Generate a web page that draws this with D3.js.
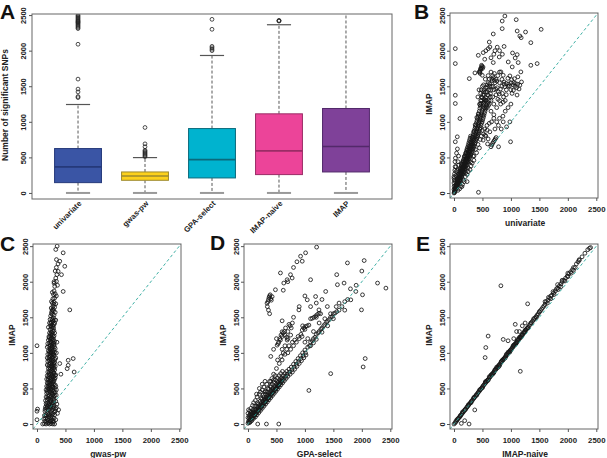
<!DOCTYPE html>
<html><head><meta charset="utf-8">
<script src="https://cdn.jsdelivr.net/npm/d3@7"></script>
<style>body{margin:0;background:#fff}</style>
</head><body><svg id="c" width="607" height="458"></svg>
<script>
// ---------------- DATA ----------------
const boxCategories = ["univariate","gwas-pw","GPA-select","IMAP-naive","IMAP"];
const boxFill   = ["#3a55a5","#fcd11c","#00b3cf","#ec4499","#7f4199"];
const boxStroke = ["#25397a","#9c8a2e","#0b6a7c","#9a2c66","#52296a"];
const boxQ1     = [145,178,211,258,295];
const boxMedian = [366,239,469,591,652];
const boxQ3     = [624,295,905,1112,1187];
const whiskerLow  = [0,0,0,0,0];
const whiskerHigh = [1243,497,1932,2364,2560];
const boxOutliers = [
  [1340,1355,1420,1460,1600,2090,2310,2325,2340,2355,2370,2385,2395,2405,2415,2425,2440,2455,2470,2485,2500],
  [510,525,540,555,570,585,600,650,690,920],
  [2000,2020,2040,2060,2300,2440],
  [2415,2420,2425],
  []
];
const yTicks = [0,500,1000,1500,2000,2500];
const xTicks = [0,500,1000,1500,2000,2500];

// IMAP (y) against univariate (x)
const imapVsUnivariate = [
[0,0],[5,15],[10,5],[12,35],[20,25],[18,55],[28,45],[25,75],[35,60],[32,95],[42,80],[40,120],[50,100],[48,145],[58,125],[55,170],[65,110],[65,150],[62,195],[75,135],[75,175],[72,220],[85,155],[85,200],[82,245],[95,140],[95,185],[95,230],[92,275],[105,170],[105,215],[105,260],[102,305],[115,190],[115,240],[115,285],[112,330],[125,210],[125,260],[125,310],[122,355],[135,230],[135,280],[135,330],[132,380],[145,250],[145,300],[145,350],[142,410],[155,270],[155,320],[155,370],[152,430],[165,290],[165,340],[165,390],[162,455],[175,300],[175,355],[175,410],[172,475],[185,320],[185,375],[185,430],[182,500],[195,340],[195,395],[195,450],[192,520],[205,360],[205,415],[205,470],[202,545],[215,380],[215,435],[215,495],[212,570],[225,400],[225,455],[225,520],[222,600],[235,420],[235,480],[235,545],[232,625],[245,440],[245,500],[245,565],[242,650],[255,460],[255,520],[255,590],[252,680],[265,480],[265,545],[265,615],[262,710],[275,500],[275,570],[275,640],[272,740],[285,520],[285,590],[285,665],[282,770],[295,540],[295,615],[295,690],[292,800],
[0,50],[3,95],[0,140],[8,185],[0,230],[10,270],[15,320],[20,370],[18,440],[25,490],[0,206],[35,300],[35,370],[23,720],[58,790],[105,1047],[23,1258],[23,1374],[23,1819],[23,2029],[45,560],[60,620],[80,520],[70,440],
[100,60],[150,120],[200,230],[250,300],[180,160],[230,260],[300,380],[320,420],[280,330],[350,460],[430,10],[230,160],[140,90],
[305,560],[305,640],[305,720],[315,580],[315,660],[315,750],[325,600],[325,690],[325,780],[335,620],[335,710],[335,810],[345,640],[345,740],[345,840],[355,660],[355,760],[355,870],[365,690],[365,790],[365,900],[375,710],[375,820],[375,930],[385,740],[385,850],[385,960],[395,760],[395,870],[395,990],[405,780],[405,900],[405,1020],[415,800],[415,930],[415,1050],[425,830],[425,960],[425,1080],[435,850],[435,990],[435,1110],[445,870],[445,1010],[445,1150],[455,900],[455,1040],[455,1190],[465,920],[465,1070],[465,1220],[475,950],[475,1100],[475,1260],[485,980],[485,1130],[485,1300],[495,1000],[495,1160],[495,1340],[505,1030],[505,1190],[505,1380],[515,1060],[515,1220],[515,1260],[525,1090],[525,1250],[525,1320],[535,1120],[535,1280],[545,1150],[545,1310],[555,1180],[555,1340],[565,1210],[575,1240],[585,1200],[595,1270],[605,1230],[615,1300],
[650,650],[665,675],[680,700],[695,720],[710,740],[725,760],[740,780],[590,690],[600,760],[560,800],[520,830],[540,900],[580,950],[620,980],[660,1000],[700,1050],[630,860],[480,800],[500,880],
[783,650],[994,720],[865,1000],[982,1000],[924,930],[780,950],[830,900],[860,1080],[720,900],[750,1000],[800,1050],[700,1100],[650,1150],[900,1150],[950,1200],[1000,1250],[820,1250],
[420,1350],[440,1450],[470,1400],[500,1500],[530,1450],[550,1600],[580,1520],[600,1650],[620,1600],[650,1700],[680,1650],[560,1480],[590,1380],[610,1450],[630,1500],[670,1580],[690,1620],[710,1680],[740,1600],[770,1650],[800,1700],[600,1550],[620,1250],[640,1400],[650,1300],[660,1500],[680,1350],[700,1450],[700,1250],[720,1550],[740,1380],[750,1200],[760,1480],[780,1420],[800,1300],[800,1550],[840,1500],[850,1400],[870,1350],[880,1560],[900,1300],[920,1450],[950,1500],[1000,1450],[1020,1400],[1050,1550],[1070,1500],[1100,1480],[880,1530],[920,1540],[960,1530],[1000,1550],[1040,1520],[1080,1540],[1120,1530],[1175,1702],[1122,1632],[982,1646],[865,1655],[824,1702],[640,1350],[560,1300],[580,1420],[530,1380],[470,1300],[450,1250],[520,1520],[480,1450],
[450,1700],[460,1720],[470,1740],[480,1760],[490,1780],[500,1750],[510,1770],[460,1680],[444,1702],[468,1749],[485,1795],[497,1655],[368,1688],[269,1608],
[894,2487],[847,2417],[1093,2436],[847,2310],[690,2235],[1110,2277],[1157,2207],[1257,2263],[1180,2183],[1531,2300],[1350,2113],[620,2122],[631,2052],[602,2029],[427,1935],[514,1973],[690,1833],[795,1912],[953,1842],[1029,1968],[1110,1945],[1075,1898],[1128,1833],[1023,1772],[1350,1795],[1461,1819],[700,1950],[720,2000],[760,2050],[800,2000],[850,1950],[880,2060],[650,1900],[540,1880],[560,2000],[1186,1561],[1157,1515],
[13,68],[27,112],[44,92],[51,187],[63,143],[77,262],[91,213],[103,338],[117,268],[128,397],[143,327],[157,442],[169,366],[183,517],[197,427],[209,563],[224,481],[238,602],[251,534],[263,658],[278,585],[291,717],[304,612],[318,784],[331,668],[346,863],[358,726],[372,958],[387,793],[401,1062],[413,857],[426,1113],[442,938],[457,1241],[471,1018],[488,1347],[503,1092],[519,1423],[537,1192],[552,1418],[571,1302],[588,1486],[607,1372],[626,1532],[644,1443],[663,1602],[683,1497],[711,1582],[733,1461],[752,1573],[771,1318],[796,1392],[817,1463],[843,1597],[866,1277],[893,1493],[918,1382],[947,1612],[972,1503],[1013,1592],[1043,1443],[1063,1607],[1108,1377],[1143,1462],[68,37],[117,93],[163,182],[207,287],[247,352],[293,437],[338,517],[377,612],[422,683],[463,752],[512,743],[547,812],[583,883],[447,633],[397,566],[352,522],[58,317],[36,244],[14,166],[81,392]
];

// IMAP (y) against gwas-pw (x)
const imapVsGwasPw = [
[100,0],[130,5],[160,0],[190,10],[220,0],[250,5],[280,0],[310,0],[140,40],[170,30],[200,50],[230,40],[260,60],[290,30],[120,70],[150,80],[180,90],[210,100],[240,90],[270,100],[300,80],[330,60],[0,60],[0,180],[10,210],
[130,120],[160,130],[190,150],[220,140],[250,160],[280,150],[310,130],[140,180],[170,190],[200,200],[230,210],[260,200],[290,220],[320,180],[150,240],[180,250],[210,260],[240,250],[270,270],[300,260],[340,230],[160,290],[190,300],[220,290],[250,310],[280,300],[360,150],[380,200],[350,280],
[150,330],[180,340],[210,350],[240,340],[270,360],[300,350],[330,320],[160,380],[190,390],[220,400],[250,390],[280,410],[310,400],[170,430],[200,440],[230,450],[260,440],[290,460],[320,450],[160,480],[190,490],[220,500],[250,490],[280,510],[310,500],[340,480],[170,530],[200,540],[230,550],[260,540],[290,560],[320,550],[180,580],[210,590],[240,600],[270,590],[300,610],
[170,630],[200,640],[230,650],[260,640],[290,660],[320,650],[180,680],[210,690],[240,700],[270,690],[300,710],[330,690],[190,730],[220,740],[250,750],[280,740],[310,760],[200,780],[230,790],[260,800],[290,790],[320,810],[180,830],[210,840],[240,850],[270,840],[300,860],[190,880],[220,890],[250,900],[280,890],[310,870],[548,896],[636,920],[548,825],[530,778],[653,731],[400,850],[420,700],
[180,930],[210,940],[240,950],[270,940],[300,960],[330,930],[190,980],[220,990],[250,1000],[280,990],[310,1010],[200,1030],[230,1040],[260,1050],[290,1040],[320,1060],[180,1080],[210,1090],[240,1100],[270,1090],[300,1110],[190,1130],[220,1140],[250,1150],[280,1140],[310,1160],[200,1180],[230,1190],[260,1200],[290,1190],[0,1100],[340,1000],[350,1150],
[210,1230],[240,1240],[270,1250],[300,1240],[220,1280],[250,1290],[280,1300],[310,1280],[230,1330],[260,1340],[290,1350],[200,1360],[240,1380],[270,1390],[300,1400],[220,1420],[250,1430],[280,1440],[310,1420],[260,1480],[290,1490],[230,1470],[330,1460],
[240,1520],[270,1540],[300,1530],[260,1580],[290,1590],[320,1570],[576,1604],[250,1630],[280,1650],[310,1640],[270,1700],[300,1710],[254,1722],[330,1690],[280,1760],[310,1770],[290,1820],[320,1830],[300,1870],[460,1863],[340,1800],[270,1850],
[312,1934],[342,2005],[300,1980],[330,2050],[371,2146],[430,2099],[350,2100],[320,2150],[488,2217],[340,2200],[400,2288],[342,2311],[370,2250],[460,2406],[330,2453],[354,2500],[300,2000],[360,1950],
[213,23],[247,37],[177,62],[283,44],[153,113],[197,124],[233,117],[267,133],[303,167],[143,208],[177,223],[213,237],[247,228],[287,243],[327,211],[167,268],[203,273],[233,318],[263,283],[297,328],[187,362],[227,373],[263,418],[293,383],[337,407],[177,458],[213,467],[243,471],[273,478],[303,433],[187,513],[217,523],[253,517],[283,528],[331,526],[197,567],[227,572],[257,563],[287,587],[193,618],[237,623],[273,618],[307,633],[203,663],[247,673],[283,668],[317,683],[213,713],[253,723],[293,718],[227,768],[267,773],[303,783],[207,813],[247,818],[283,813],[233,863],[267,868],[297,838],[207,913],[237,918],[283,923],[317,908],[227,963],[263,968],[297,983],[217,1013],[247,1023],[277,1017],[233,1063],[267,1073],[307,1083],[227,1113],[263,1118],[297,1133],[243,1163],[277,1173],[213,1213],[253,1213],[287,1223],[237,1263],[267,1273],[297,1313],[253,1363],[283,1373],[243,1413],[273,1463],[303,1463],[253,1553],[287,1613],[297,1683],[267,1603]
];

// IMAP (y) against GPA-select (x)
const imapVsGpaSelect = [
[0,10],[10,40],[20,80],[30,20],[40,60],[50,120],[60,90],[70,50],[80,150],[90,110],[100,80],[110,170],[120,130],[130,100],[140,200],[150,160],[160,130],[170,230],[180,190],[190,160],[200,260],[210,220],[220,190],[230,290],[240,250],[250,220],[260,320],[270,280],[280,250],[290,350],[300,310],[310,280],[320,380],[330,340],[340,310],[350,410],[360,370],[370,340],[380,440],[390,400],[400,370],[410,470],[420,430],[430,400],[440,500],[450,460],[460,430],[470,530],[480,490],[490,460],[500,560],[510,520],[520,490],[530,590],[540,550],[550,520],[560,620],[570,580],[580,550],[590,650],[600,610],[610,580],[620,680],[630,640],[640,610],[650,710],[660,670],[670,640],[680,740],[690,700],[700,670],[720,770],[730,730],[740,700],[760,800],[770,760],[780,730],[800,840],[810,800],[820,770],[840,880],[850,840],[860,810],[880,920],[890,880],[900,850],[920,960],[930,920],[940,890],[960,1000],[970,960],[980,930],[1000,1040],[1010,1000],[1020,970],
[30,180],[50,220],[80,260],[100,300],[130,330],[160,380],[200,420],[220,450],[250,480],[280,520],[300,450],[330,560],[350,500],[380,600],[400,540],[420,640],[450,620],[480,680],[150,420],[200,500],[250,560],[300,600],[120,250],[90,200],[60,170],[40,140],[20,120],[0,90],[0,150],[10,200],[170,300],[230,360],[270,410],[310,460],
[400,600],[450,700],[500,780],[520,900],[550,850],[580,950],[600,900],[620,1000],[650,980],[680,1050],[700,1000],[720,1100],[750,1050],[780,1150],[800,1100],[820,1180],[850,1150],[880,1230],[900,1200],[930,1260],[950,1230],[650,1100],[600,1050],[700,1200],[750,1250],
[512,1108],[540,1150],[560,1200],[580,1250],[600,1297],[620,1280],[650,1250],[680,1220],[688,1180],[530,1130],[570,1180],[600,1230],[640,1300],[660,1350],[700,1300],[720,1400],[740,1380],[760,1350],[780,1420],
[953,1320],[980,1350],[1010,1370],[1040,1380],[1070,1390],[1000,1330],[960,1380],
[1129,1486],[1160,1500],[1190,1520],[1220,1540],[1250,1557],[1276,1550],[1100,1480],[1200,1500],
[335,1698],[350,1720],[360,1750],[370,1780],[380,1800],[390,1816],[400,1760],[410,1740],[424,1790],[340,1650],[360,1600],[380,1550],
[1050,1080],[1080,1100],[1100,1150],[1130,1170],[1150,1200],[1180,1220],[1200,1260],[1230,1280],[1250,1300],[1280,1330],[1300,1350],[1330,1380],[1350,1400],[1380,1430],[1400,1450],[1430,1470],[1450,1500],[1480,1510],[1500,1550],[1530,1560],[1560,1580],[1600,1600],[1650,1650],[1700,1720],[1750,1750],[1100,1100],[1150,1140],[1200,1190],[1300,1290],[1400,1380],[1500,1480],[1450,1550],[1350,1480],[1250,1420],[1150,1300],[1050,1200],[1000,1150],
[1012,2406],[1206,2486],[953,2288],[924,2358],[570,2123],[747,2099],[688,2028],[776,2052],[629,1981],[482,1887],[1100,2028],[1365,1863],[1559,2099],[1747,2264],[2041,2297],[2276,1981],[2423,1910],[2012,1816],[1994,1604],[2059,920],[2023,802],[1453,708],[1070,472],[541,0],[324,0],[171,0],[1041,1745],[894,1604],[1188,1792],[1571,1958],[1688,1981],[1394,1651],[1247,1604],[1806,1745],[1894,1863],[1000,1800],[1200,1700],[1300,1750],[1600,1700],[1700,1600],[1800,1900],[1900,1950],[2000,2150],[1550,1650],[800,2200],[620,1880],[700,2000],[860,2280],[500,1200],[450,1050],[400,950],[600,1450],[800,1500],[900,1650],[1100,1650],
[15,25],[25,55],[45,35],[55,95],[75,75],[85,130],[105,115],[115,150],[135,140],[145,185],[165,175],[175,210],[195,200],[205,240],[225,230],[235,270],[255,260],[265,300],[285,290],[295,330],[315,320],[325,360],[345,350],[355,390],[375,380],[385,420],[405,410],[415,450],[435,440],[445,480],[465,470],[475,510],[495,500],[505,540],[525,530],[535,570],[555,560],[565,600],[585,590],[595,630],[45,100],[65,150],[95,170],[125,210],[155,250],[185,280],[215,320],[245,350],[275,380],[305,420],[335,450],[365,490],[395,520],[425,560],[455,590],[485,620],[515,650],[545,680],[575,710],[605,740]
];

// IMAP (y) against IMAP-naive (x)
const imapVsImapNaive = [
[0,0],[20,15],[30,35],[45,40],[60,60],[70,75],[85,85],[100,100],[110,118],[125,128],[140,145],[150,155],[165,170],[180,185],[190,200],[205,210],[220,228],[230,240],[245,252],[260,270],[270,282],[285,295],[300,312],[310,325],[325,335],[340,355],[350,365],[365,378],[380,395],[390,408],[405,420],[420,438],[430,450],[445,462],[460,480],[470,492],[485,505],[500,520],[510,535],[525,548],[540,565],[550,575],[565,588],[580,605],[590,618],[605,630],[620,648],[630,660],[645,672],[660,690],[670,702],[685,715],[700,730],[710,745],[725,756],[740,772],[750,785],[765,798],[780,815],[790,828],[805,840],[820,858],[830,870],[845,882],[860,898],[870,912],[885,925],[900,940],[910,955],[925,966],[940,982],[950,995],[965,1008],[980,1025],[990,1038],[1005,1050],[1020,1066],[1030,1080],[1045,1092],[1060,1108],[1070,1122],[1085,1135],[1100,1150],[1110,1165],[1125,1176],[1140,1192],[1150,1205],[1165,1218],[1180,1235],[1190,1248],[1205,1260],[1220,1276],[1230,1290],[1245,1302],[1260,1318],[1270,1332],[1285,1345],[1300,1360],[1320,1382],[1340,1402],[1360,1425],[1380,1445],[1400,1465],[1420,1488],[1440,1508],[1460,1530],[1480,1550],[1500,1572],[1520,1595],[1540,1615],[1560,1638],[1580,1658],[1600,1680],
[50,60],[110,108],[150,170],[200,205],[250,268],[300,300],[350,375],[400,405],[450,480],[500,510],[550,590],[600,615],[650,690],[700,720],[750,800],[800,820],[850,900],[900,930],[950,1010],[1000,1040],[1050,1110],[1100,1140],[1150,1220],[1200,1250],[1250,1320],[1300,1350],[1350,1420],[1400,1480],[1450,1500],[1500,1580],[560,600],[620,665],[680,700],[720,765],[780,800],[830,880],[880,920],[920,980],[980,1010],[1040,1100],[1080,1120],[1120,1190],[1180,1220],[1240,1290],
[1620,1720],[1650,1740],[1680,1770],[1700,1800],[1720,1810],[1750,1840],[1780,1870],[1800,1900],[1820,1910],[1850,1940],[1880,1970],[1900,2000],[1930,2020],[1960,2050],[1990,2080],[2020,2110],[2050,2140],[2080,2170],[2100,2200],[2150,2250],[2200,2300],[2250,2350],[2300,2400],[2350,2450],[2400,2480],[1640,1700],[1700,1760],[1760,1820],[1830,1890],[1880,1930],[1950,2010],[2000,2070],[2060,2120],[2130,2200],[2180,2280],[1600,1720],[1660,1780],[1740,1860],[1820,1960],[1900,2020],[2000,2120],[2100,2160],[2200,2310],[2380,2470],
[824,1943],[1294,1689],[600,1236],[559,1075],[547,934],[865,1189],[1076,1401],[1165,741],[365,198],[129,9],[188,47],[265,0],[1100,1300],[950,1170],[1050,1200],[1200,1380],[1250,1420],[1150,1300]
];

// ---------------- DRAW ----------------
const FONT = '"Liberation Sans", Arial, Helvetica, sans-serif';
const svg = d3.select("#c");
const defs = svg.append("defs");

function letter(t, x, y) {
  svg.append("text").attr("x", x).attr("y", y).text(t)
    .attr("font-family", FONT).attr("font-size", 21).attr("font-weight", "bold").attr("fill", "#111");
}

// Panel A: boxplot
const A = {l: 32, r: 392, t: 14, b: 199};
const xA = d3.scaleLinear().domain([0.313, 5.687]).range([A.l, A.r]);
const yA = d3.scaleLinear().domain([-85, 2515]).range([A.b, A.t]);
defs.append("clipPath").attr("id", "clipA").append("rect")
  .attr("x", A.l).attr("y", A.t).attr("width", A.r - A.l).attr("height", A.b - A.t);
const gA = svg.append("g").attr("clip-path", "url(#clipA)");
const halfW = 0.35, capW = 0.18;
boxCategories.forEach((c, i) => {
  const cx = xA(i + 1);
  gA.append("line").attr("x1", cx).attr("x2", cx).attr("y1", yA(boxQ3[i])).attr("y2", yA(whiskerHigh[i]))
    .attr("stroke", "#444").attr("stroke-width", 0.9).attr("stroke-dasharray", "3,2");
  gA.append("line").attr("x1", cx).attr("x2", cx).attr("y1", yA(boxQ1[i])).attr("y2", yA(whiskerLow[i]))
    .attr("stroke", "#444").attr("stroke-width", 0.9).attr("stroke-dasharray", "3,2");
  gA.append("line").attr("x1", xA(i + 1 - capW)).attr("x2", xA(i + 1 + capW))
    .attr("y1", yA(whiskerHigh[i])).attr("y2", yA(whiskerHigh[i])).attr("stroke", "#555").attr("stroke-width", 1.2);
  gA.append("line").attr("x1", xA(i + 1 - capW)).attr("x2", xA(i + 1 + capW))
    .attr("y1", yA(whiskerLow[i])).attr("y2", yA(whiskerLow[i])).attr("stroke", "#999").attr("stroke-width", 2);
  gA.append("rect").attr("x", xA(i + 1 - halfW)).attr("width", xA(i + 1 + halfW) - xA(i + 1 - halfW))
    .attr("y", yA(boxQ3[i])).attr("height", yA(boxQ1[i]) - yA(boxQ3[i]))
    .attr("fill", boxFill[i]).attr("stroke", boxStroke[i]).attr("stroke-width", 1);
  gA.append("line").attr("x1", xA(i + 1 - halfW)).attr("x2", xA(i + 1 + halfW))
    .attr("y1", yA(boxMedian[i])).attr("y2", yA(boxMedian[i])).attr("stroke", boxStroke[i]).attr("stroke-width", 1.6);
  gA.selectAll(null).data(boxOutliers[i]).enter().append("circle")
    .attr("cx", cx).attr("cy", d => yA(d)).attr("r", 1.9)
    .attr("fill", "none").attr("stroke", "#222").attr("stroke-width", 0.8);
});
svg.append("rect").attr("x", A.l).attr("y", A.t).attr("width", A.r - A.l).attr("height", A.b - A.t)
  .attr("fill", "none").attr("stroke", "#666").attr("stroke-width", 1);

function styleLeftAxis(g, size) {
  g.select(".domain").remove();
  g.selectAll(".tick line").attr("stroke", "#555");
  g.selectAll(".tick text").attr("transform", "rotate(-90)").attr("x", 0).attr("y", -5).attr("dy", 0)
    .attr("text-anchor", "middle").attr("fill", "#222")
    .attr("font-family", FONT).attr("font-size", size).attr("font-weight", "bold");
}
const axA = svg.append("g").attr("transform", `translate(${A.l},0)`)
  .call(d3.axisLeft(yA).tickValues(yTicks).tickSize(3).tickFormat(d3.format("d")));
styleLeftAxis(axA, 7.5);
axA.selectAll(".tick text").attr("y", -6);

svg.append("text").attr("transform", "translate(8,105) rotate(-90)").attr("text-anchor", "middle")
  .attr("font-family", FONT).attr("font-size", 8.5).attr("font-weight", "bold").attr("fill", "#222")
  .text("Number of significant SNPs");

boxCategories.forEach((c, i) => {
  svg.append("text").attr("transform", `translate(${xA(i + 1) + 4},${A.b + 5}) rotate(-45)`)
    .attr("text-anchor", "end").attr("font-family", FONT).attr("font-size", 7.8).attr("font-weight", "bold")
    .attr("fill", "#222").text(c);
});
letter("A", 0, 19);

// Scatter panels
function scatter(id, box, pts, xLabel) {
  const xs = d3.scaleLinear().domain([-70, 2530]).range([box.l, box.r]);
  const ys = d3.scaleLinear().domain([-70, 2530]).range([box.b, box.t]);
  defs.append("clipPath").attr("id", id).append("rect")
    .attr("x", box.l).attr("y", box.t).attr("width", box.r - box.l).attr("height", box.b - box.t);
  const g = svg.append("g").attr("clip-path", `url(#${id})`);
  g.selectAll("circle").data(pts).enter().append("circle")
    .attr("cx", d => xs(d[0])).attr("cy", d => ys(d[1])).attr("r", 1.9)
    .attr("fill", "none").attr("stroke", "#161616").attr("stroke-width", 0.85);
  g.append("line").attr("x1", xs(-70)).attr("y1", ys(-70)).attr("x2", xs(2530)).attr("y2", ys(2530))
    .attr("stroke", "#2aa79b").attr("stroke-width", 0.9).attr("stroke-dasharray", "3,2.5");
  svg.append("rect").attr("x", box.l).attr("y", box.t).attr("width", box.r - box.l).attr("height", box.b - box.t)
    .attr("fill", "none").attr("stroke", "#666").attr("stroke-width", 1);
  const ax = svg.append("g").attr("transform", `translate(0,${box.b})`)
    .call(d3.axisBottom(xs).tickValues(xTicks).tickSize(3).tickPadding(5).tickFormat(d3.format("d")));
  ax.select(".domain").remove();
  ax.selectAll(".tick line").attr("stroke", "#555");
  ax.selectAll(".tick text").attr("fill", "#222").attr("font-family", FONT).attr("font-size", 7.8).attr("font-weight", "bold");
  const ay = svg.append("g").attr("transform", `translate(${box.l},0)`)
    .call(d3.axisLeft(ys).tickValues(yTicks).tickSize(3).tickFormat(d3.format("d")));
  styleLeftAxis(ay, 7.5);
  svg.append("text").attr("x", (xs(0) + xs(2500)) / 2).attr("y", box.b + 27.5).attr("text-anchor", "middle")
    .attr("font-family", FONT).attr("font-size", 8.5).attr("font-weight", "bold").attr("fill", "#222").text(xLabel);
  svg.append("text").attr("transform", `translate(${box.l - 18},${(ys(0) + ys(2500)) / 2}) rotate(-90)`)
    .attr("text-anchor", "middle").attr("font-family", FONT).attr("font-size", 8.5).attr("font-weight", "bold")
    .attr("fill", "#222").text("IMAP");
}

scatter("clipB", {l: 450, r: 598, t: 13, b: 198}, imapVsUnivariate, "univariate");
scatter("clipC", {l: 33, r: 181, t: 244, b: 429}, imapVsGwasPw, "gwas-pw");
scatter("clipD", {l: 244, r: 392, t: 244, b: 429}, imapVsGpaSelect, "GPA-select");
scatter("clipE", {l: 450, r: 598, t: 244, b: 429}, imapVsImapNaive, "IMAP-naive");
letter("B", 414, 19);
letter("C", 0, 251);
letter("D", 210, 250);
letter("E", 416, 251);
</script></body></html>
